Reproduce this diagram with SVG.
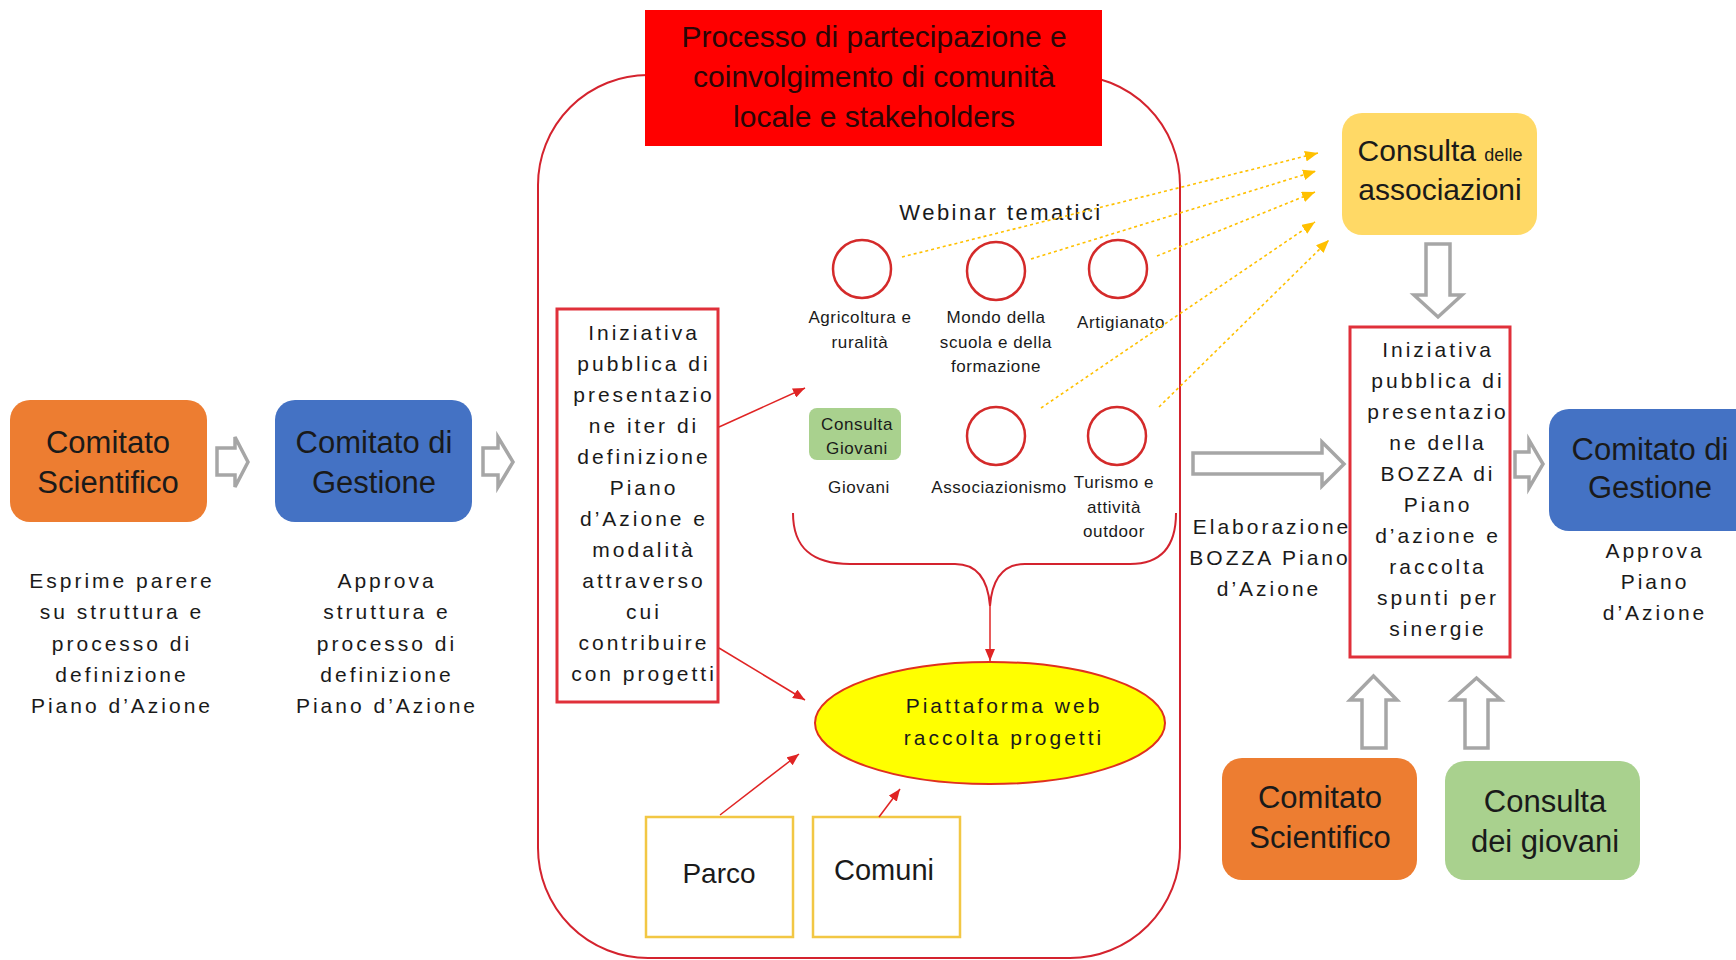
<svg xmlns="http://www.w3.org/2000/svg" width="1736" height="960" viewBox="0 0 1736 960">
<style>
text{font-family:"Liberation Sans",Arial,sans-serif;fill:#1a1a1a}
.lbl{font-size:31px;text-anchor:middle}
.desc{font-size:21px;letter-spacing:3px;text-anchor:middle}
.small{font-size:17px;letter-spacing:0.6px;text-anchor:middle}
.title{font-size:30px;text-anchor:middle;fill:#2a0606}
.blk{fill:#fff;stroke:#a6a6a6;stroke-width:3.5;stroke-linejoin:miter}
.red{stroke:#e02424;stroke-width:1.5;fill:none}
.dot{stroke:#ffc000;stroke-width:1.6;fill:none;stroke-dasharray:3 3}
.circ{fill:#fff;stroke:#d42a2a;stroke-width:2.5}
</style>
<defs>
<marker id="ah" viewBox="0 0 12 10" refX="12" refY="5" markerWidth="12" markerHeight="10" markerUnits="userSpaceOnUse" orient="auto"><path d="M0,0 L12,5 L0,10 z" fill="#e02424"/></marker>
<marker id="ay" viewBox="0 0 12 10" refX="12" refY="5" markerWidth="13" markerHeight="11" markerUnits="userSpaceOnUse" orient="auto"><path d="M0,0 L12,5 L0,10 z" fill="#ffc000"/></marker>
</defs>
<rect width="1736" height="960" fill="#fff"/>

<g id="container"><rect x="538" y="75" width="642" height="883" rx="110" ry="110" fill="none" stroke="#d4232e" stroke-width="2"/></g>
<g id="title"><rect x="645" y="10" width="457" height="136" fill="#ff0000"/>
<text class="title" x="874" y="47">Processo di partecipazione e</text>
<text class="title" x="874" y="87">coinvolgimento di comunità</text>
<text class="title" x="874" y="127">locale e stakeholders</text></g>

<g id="comitato-scientifico-1"><rect x="10" y="400" width="197" height="122" rx="20" fill="#ed7d31"/>
<text class="lbl" x="108" y="453">Comitato</text><text class="lbl" x="108" y="493">Scientifico</text></g>
<g id="desc-1"><text class="desc" x="122" y="588">Esprime parere</text><text class="desc" x="122" y="619">su struttura e</text><text class="desc" x="122" y="651">processo di</text><text class="desc" x="122" y="682">definizione</text><text class="desc" x="122" y="713">Piano d’Azione</text></g>
<g id="comitato-gestione-1"><rect x="275" y="400" width="197" height="122" rx="20" fill="#4472c4"/>
<text class="lbl" x="374" y="453">Comitato di</text><text class="lbl" x="374" y="493">Gestione</text></g>
<g id="desc-2"><text class="desc" x="387" y="588">Approva</text><text class="desc" x="387" y="619">struttura e</text><text class="desc" x="387" y="651">processo di</text><text class="desc" x="387" y="682">definizione</text><text class="desc" x="387" y="713">Piano d’Azione</text></g>

<g id="iniziativa-1"><rect x="557" y="309" width="161" height="393" fill="#fff" stroke="#e0303a" stroke-width="3"/>
<text class="desc" x="644" y="340">Iniziativa</text><text class="desc" x="644" y="371">pubblica di</text><text class="desc" x="644" y="402">presentazio</text><text class="desc" x="644" y="433">ne iter di</text><text class="desc" x="644" y="464">definizione</text><text class="desc" x="644" y="495">Piano</text><text class="desc" x="644" y="526">d’Azione e</text><text class="desc" x="644" y="557">modalità</text><text class="desc" x="644" y="588">attraverso</text><text class="desc" x="644" y="619">cui</text><text class="desc" x="644" y="650">contribuire</text><text class="desc" x="644" y="681">con progetti</text></g>

<g id="webinar"><text x="1001" y="220" font-size="22" letter-spacing="2.5" text-anchor="middle">Webinar tematici</text></g>
<g id="w-agricoltura"><ellipse class="circ" cx="862" cy="269" rx="29" ry="29"/><text class="small" x="860" y="323">Agricoltura e</text><text class="small" x="860" y="348">ruralità</text></g>
<g id="w-scuola"><ellipse class="circ" cx="996" cy="271" rx="29" ry="29"/><text class="small" x="996" y="323">Mondo della</text><text class="small" x="996" y="348">scuola e della</text><text class="small" x="996" y="372">formazione</text></g>
<g id="w-artigianato"><ellipse class="circ" cx="1118" cy="269" rx="29" ry="29"/><text class="small" x="1121" y="328">Artigianato</text></g>
<g id="w-giovani"><rect x="809" y="408" width="92" height="52" rx="8" fill="#a9d18e"/><text class="small" x="857" y="430">Consulta</text><text class="small" x="857" y="454">Giovani</text><text class="small" x="859" y="493">Giovani</text></g>
<g id="w-associazionismo"><ellipse class="circ" cx="996" cy="436" rx="29" ry="29"/><text class="small" x="999" y="493">Associazionismo</text></g>
<g id="w-turismo"><ellipse class="circ" cx="1117" cy="436" rx="29" ry="29"/><text class="small" x="1114" y="488">Turismo e</text><text class="small" x="1114" y="513">attività</text><text class="small" x="1114" y="537">outdoor</text></g>

<g id="piattaforma"><ellipse cx="990" cy="723" rx="175" ry="61" fill="#ffff00" stroke="#e0301e" stroke-width="2"/>
<text class="desc" x="1004" y="713">Piattaforma web</text><text class="desc" x="1004" y="745">raccolta progetti</text></g>
<g id="parco"><rect x="646" y="817" width="147" height="120" fill="#fff" stroke="#f2c744" stroke-width="2.5"/><text x="719" y="883" font-size="28" text-anchor="middle">Parco</text></g>
<g id="comuni"><rect x="813" y="817" width="147" height="120" fill="#fff" stroke="#f2c744" stroke-width="2.5"/><text x="884" y="880" font-size="29" text-anchor="middle">Comuni</text></g>

<g id="consulta-associazioni"><rect x="1342" y="113" width="195" height="122" rx="20" fill="#ffd966"/>
<text x="1440" y="161" font-size="30" text-anchor="middle">Consulta <tspan font-size="18">delle</tspan></text>
<text x="1440" y="200" font-size="30" text-anchor="middle">associazioni</text></g>

<g id="elaborazione"><text class="desc" x="1272" y="534">Elaborazione</text><text class="desc" x="1270" y="565">BOZZA Piano</text><text class="desc" x="1269" y="596">d’Azione</text></g>

<g id="iniziativa-2"><rect x="1350" y="327" width="160" height="330" fill="#fff" stroke="#e0303a" stroke-width="3"/>
<text class="desc" x="1438" y="357">Iniziativa</text><text class="desc" x="1438" y="388">pubblica di</text><text class="desc" x="1438" y="419">presentazio</text><text class="desc" x="1438" y="450">ne della</text><text class="desc" x="1438" y="481">BOZZA di</text><text class="desc" x="1438" y="512">Piano</text><text class="desc" x="1438" y="543">d’azione e</text><text class="desc" x="1438" y="574">raccolta</text><text class="desc" x="1438" y="605">spunti per</text><text class="desc" x="1438" y="636">sinergie</text></g>

<g id="comitato-gestione-2"><rect x="1549" y="409" width="210" height="122" rx="20" fill="#4472c4"/>
<text class="lbl" x="1650" y="460">Comitato di</text><text class="lbl" x="1650" y="498">Gestione</text></g>
<g id="desc-3"><text class="desc" x="1655" y="558">Approva</text><text class="desc" x="1655" y="589">Piano</text><text class="desc" x="1655" y="620">d’Azione</text></g>

<g id="comitato-scientifico-2"><rect x="1222" y="758" width="195" height="122" rx="20" fill="#ed7d31"/>
<text class="lbl" x="1320" y="808">Comitato</text><text class="lbl" x="1320" y="848">Scientifico</text></g>
<g id="consulta-giovani"><rect x="1445" y="761" width="195" height="119" rx="20" fill="#a9d18e"/>
<text class="lbl" x="1545" y="812">Consulta</text><text class="lbl" x="1545" y="852">dei giovani</text></g>

<g id="connectors">
<polygon class="blk" points="217,448 235,448 235,437 248,462 235,487 235,475 217,475"/>
<polygon class="blk" points="483,448 498,448 498,437 513,462 498,487 498,475 483,475"/>
<polygon class="blk" points="1193,453 1322,453 1322,442 1344,464 1322,486 1322,474 1193,474"/>
<polygon class="blk" points="1515,452 1529,452 1529,440 1543,464 1529,488 1529,477 1515,477"/>
<polygon class="blk" points="1426,244 1450,244 1450,295 1462,295 1438,317 1414,295 1426,295"/>
<polygon class="blk" points="1362,748 1362,700 1350,700 1373.5,676 1397,700 1386,700 1386,748"/>
<polygon class="blk" points="1465,748 1465,700 1452,700 1476.5,678 1501,700 1488,700 1488,748"/>
<path d="M793,513 C793,548 812,564 850,564 L955,564 C978,564 988,580 990,606 C992,580 1002,564 1025,564 L1130,564 C1160,564 1176,548 1176,513" fill="none" stroke="#d4232e" stroke-width="2"/>
<line class="red" x1="990" y1="604" x2="990" y2="661" marker-end="url(#ah)"/>
<line class="red" x1="719" y1="427" x2="805" y2="388" marker-end="url(#ah)"/>
<line class="red" x1="719" y1="648" x2="805" y2="700" marker-end="url(#ah)"/>
<line class="red" x1="720" y1="815" x2="799" y2="754" marker-end="url(#ah)"/>
<line class="red" x1="879" y1="817" x2="900" y2="789" marker-end="url(#ah)"/>
<line class="dot" x1="902" y1="257" x2="1318" y2="153" marker-end="url(#ay)"/>
<line class="dot" x1="1031" y1="259" x2="1316" y2="171" marker-end="url(#ay)"/>
<line class="dot" x1="1157" y1="256" x2="1315" y2="192" marker-end="url(#ay)"/>
<line class="dot" x1="1041" y1="408" x2="1315" y2="222" marker-end="url(#ay)"/>
<line class="dot" x1="1159" y1="407" x2="1329" y2="240" marker-end="url(#ay)"/>
</g>
</svg>
